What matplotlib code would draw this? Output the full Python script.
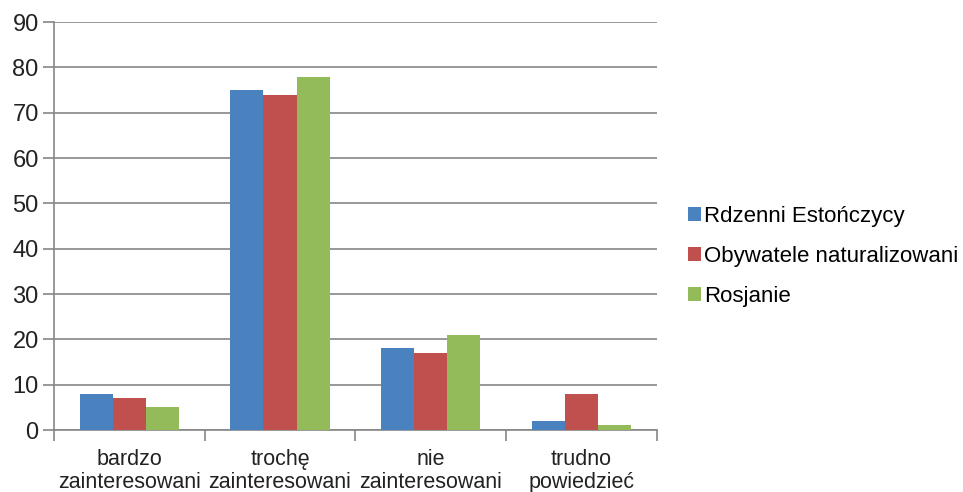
import numpy as np
import matplotlib.pyplot as plt

plt.rcParams['font.family'] = ['Liberation Sans', 'DejaVu Sans']

categories = ["bardzo\nzainteresowani", "trochę\nzainteresowani",
              "nie\nzainteresowani", "trudno\npowiedzieć"]
series_names = ["Rdzenni Estończycy", "Obywatele naturalizowani", "Rosjanie"]
estonians = [8, 75, 18, 2]
naturalized = [7, 74, 17, 8]
russians = [5, 78, 21, 1]
colors = ["#4A81BF", "#C0504D", "#93BB5A"]

fig = plt.figure(figsize=(9.63, 4.92), dpi=100)
ax = fig.add_axes([0.056, 0.126, 0.626, 0.829])

x = np.arange(len(categories))
w = 0.22
for i, (vals, name) in enumerate(zip([estonians, naturalized, russians], series_names)):
    ax.bar(x + (i - 1) * w, vals, width=w, color=colors[i], label=name, zorder=3)

ax.set_xlim(-0.5, len(categories) - 0.5)
ax.set_ylim(0, 90)
ax.set_yticks(range(0, 91, 10))
ax.yaxis.grid(True, color="#868686", linewidth=1.2, zorder=0)
ax.set_axisbelow(True)

ax.set_xticks(x)
ax.set_xticklabels(categories, fontsize=15.5, color="#222222", linespacing=1.12)
ax.set_xticks(np.arange(-0.5, len(categories)), minor=True)
ax.tick_params(axis='x', which='major', length=0, pad=14)
ax.tick_params(axis='x', which='minor', length=8, width=1.2, color="#868686")
ax.tick_params(axis='y', length=8, width=1.2, color="#868686", labelsize=17,
               labelcolor="#222222", pad=3)

for side in ["top", "right"]:
    ax.spines[side].set_visible(False)
for side in ["left", "bottom"]:
    ax.spines[side].set_color("#868686")
    ax.spines[side].set_linewidth(1.2)

ax.legend(loc="center left", bbox_to_anchor=(1.018, 0.425), frameon=False,
          fontsize=16, handlelength=0.6, handleheight=0.6, handletextpad=0.15,
          labelspacing=0.85)

fig.savefig("out.png", dpi=100)
